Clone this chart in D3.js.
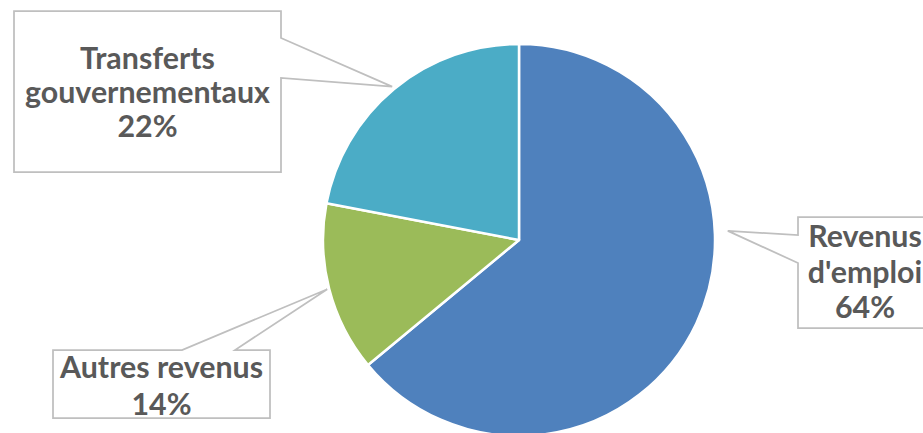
<!DOCTYPE html>
<html>
<head>
<meta charset="utf-8">
<script src="https://cdn.jsdelivr.net/npm/d3@7"></script>
<style>
  html, body { margin: 0; padding: 0; background: #fff; }
  svg { display: block; }
  .lbl { font-family: Lato, "Open Sans", sans-serif; font-weight: 700; fill: #595959; }
</style>
</head>
<body>
<svg id="chart" width="923" height="433"></svg>
<script>
// data (share of income, %)
var categories = ["Revenus d'emploi", "Autres revenus", "Transferts gouvernementaux"];
var values = [64, 14, 22];
var colors = ["#4f81bd", "#9bbb59", "#4bacc6"];

var width = 923,
    height = 433,
    cx = 519,
    cy = 240,
    radius = 196;

// callout boxes (Excel style), one per slice
// tipAngle / tipR are polar relative to the pie centre, null = use slice middle
var callouts = [
  { box: [798, 217, 134, 111], side: "left", base: [235, 263], tipAngle: 87.5, tipR: 209,
    wrap: true, cx: 865, y0: 247, lh: 35.5 },
  { box: [53, 350, 217, 68], side: "top", base: [182, 235], tipAngle: null, tipR: 198,
    wrap: false, cx: 161.5, y0: 378, lh: 37 },
  { box: [14, 11, 267, 161], side: "right", base: [38, 78], tipAngle: null, tipR: 199,
    wrap: true, cx: 147.5, y0: 69, lh: 34 }
];

var svg = d3.select("#chart");

var pie = d3.pie().sort(null).value(function (d) { return d; });
var arcs = pie(values);
var total = d3.sum(values);

var arc = d3.arc().innerRadius(0).outerRadius(radius);

var g = svg.append("g").attr("transform", "translate(" + cx + "," + cy + ")");

g.selectAll("path.slice")
    .data(arcs)
    .enter().append("path")
    .attr("class", "slice")
    .attr("d", arc)
    .attr("fill", function (d, i) { return colors[i]; })
    .attr("stroke", "#fff")
    .attr("stroke-width", 2.5)
    .attr("stroke-linejoin", "round");

function tipPoint(d, i) {
    var c = callouts[i];
    var a = c.tipAngle != null ? c.tipAngle * Math.PI / 180 : (d.startAngle + d.endAngle) / 2;
    return [cx + c.tipR * Math.sin(a), cy - c.tipR * Math.cos(a)];
}

function calloutPath(d, i) {
    var c = callouts[i], b = c.box, t = tipPoint(d, i);
    var x0 = b[0], y0 = b[1], x1 = b[0] + b[2], y1 = b[1] + b[3];
    var p = d3.path();
    if (c.side === "right") {
        p.moveTo(x0, y0); p.lineTo(x1, y0); p.lineTo(x1, c.base[0]);
        p.lineTo(t[0], t[1]); p.lineTo(x1, c.base[1]); p.lineTo(x1, y1);
        p.lineTo(x0, y1);
    } else if (c.side === "left") {
        p.moveTo(x0, y0); p.lineTo(x1, y0); p.lineTo(x1, y1); p.lineTo(x0, y1);
        p.lineTo(x0, c.base[1]); p.lineTo(t[0], t[1]); p.lineTo(x0, c.base[0]);
    } else {
        p.moveTo(x0, y0); p.lineTo(c.base[0], y0); p.lineTo(t[0], t[1]);
        p.lineTo(c.base[1], y0); p.lineTo(x1, y0); p.lineTo(x1, y1);
        p.lineTo(x0, y1);
    }
    p.closePath();
    return p.toString();
}

var lab = svg.selectAll("g.callout")
    .data(arcs)
    .enter().append("g")
    .attr("class", "callout");

lab.append("path")
    .attr("d", calloutPath)
    .attr("fill", "#fff")
    .attr("stroke", "#bfbfbf")
    .attr("stroke-width", 1.75)
    .attr("stroke-linejoin", "miter");

var pct = d3.format(".0%");

lab.each(function (d, i) {
    var c = callouts[i];
    var lines = c.wrap ? categories[i].split(" ") : [categories[i]];
    lines.push(pct(d.value / total));
    var t = d3.select(this).append("text")
        .attr("class", "lbl")
        .attr("text-anchor", "middle")
        .style("font-size", "24px");
    t.selectAll("tspan")
        .data(lines)
        .enter().append("tspan")
        .attr("x", c.cx)
        .attr("y", function (l, j) { return c.y0 + j * c.lh; })
        .text(function (l) { return l; });
});

// scale the label font so "gouvernementaux" is as wide as in the picture (~245px)
var ref = svg.selectAll("tspan").filter(function () { return this.textContent === "gouvernementaux"; });
if (!ref.empty()) {
    var w = ref.node().getComputedTextLength();
    var fs = 24 * 245 / w;
    svg.selectAll("text.lbl").style("font-size", fs + "px");
}
</script>
</body>
</html>
